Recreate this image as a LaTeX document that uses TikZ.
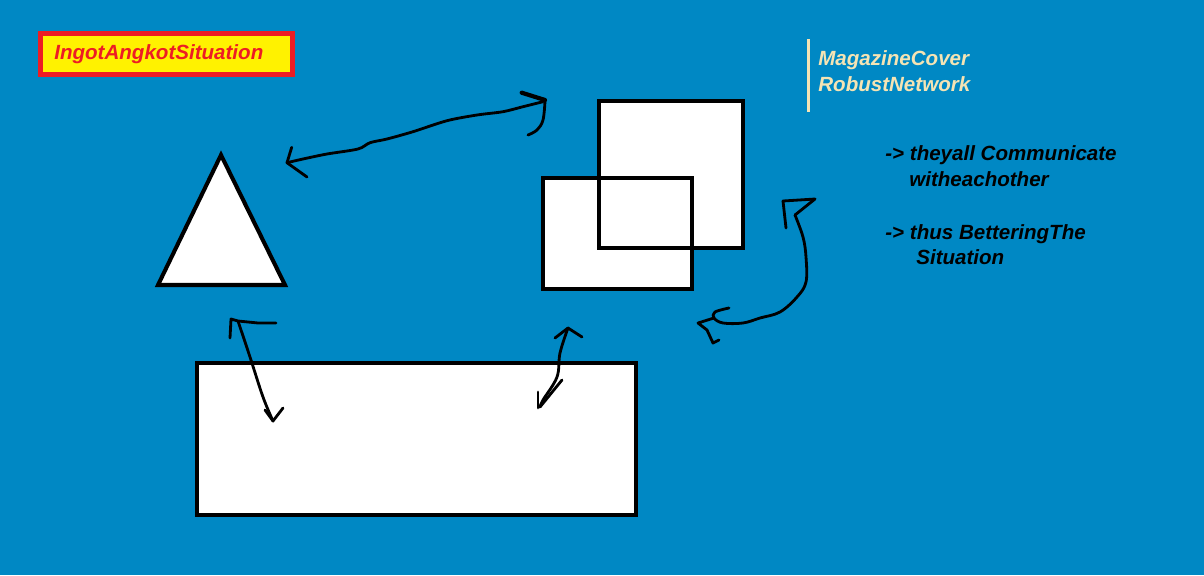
\documentclass[tikz,border=0pt]{standalone}
\usepackage{fontspec}
\setmainfont{Liberation Sans}
\usetikzlibrary{positioning, calc}
\definecolor{fundo}{RGB}{0,136,196}
\definecolor{creme}{RGB}{245,228,180}
\definecolor{vermelho}{RGB}{237,28,36}
\definecolor{amarelo}{RGB}{255,242,0}

\begin{document}
\begin{tikzpicture}[x=0.02cm, y=-0.02cm,
    every node/.style={font=\fontsize{11.7}{14}\selectfont\bfseries\itshape, inner sep=0pt, anchor=base west},
    forma/.style={draw=black, fill=white, line width=2.3pt},
    traco/.style={draw=black, line width=1.6pt, line cap=round, line join=round}]
    % Fundo
    \fill[fundo] (0,0) rectangle (1204,575);
    \useasboundingbox (0,0) rectangle (1204,575);
    % Título
    \draw[vermelho, fill=amarelo, line width=2.8pt] (40.5,33.5) rectangle (292.5,74.5);
    \node[vermelho] (titulo) at (54,59.5) {IngotAngkotSituation};
    % Formas
    \draw[forma] (221,155) -- (285,285) -- (158,285) -- cycle;
    \draw[forma] (197,363) rectangle (636,515);
    \fill[white] (599,101) rectangle (743,248);
    \fill[white] (543,178) rectangle (692,289);
    \draw[line width=2.3pt] (599,101) rectangle (743,248);
    \draw[line width=2.3pt] (543,178) rectangle (692,289);
    % Extremos das setas
    \coordinate (a1) at (287,162.7);
    \coordinate (a2) at (543,101.7);
    \coordinate (b1) at (795,215);
    \coordinate (b2) at (714,318);
    \coordinate (c1) at (238,321);
    \coordinate (c2) at (273,421);
    \coordinate (d1) at (568,328);
    \coordinate (d2) at (540,407);
    % Seta triângulo - quadrados
    \draw[traco] plot[smooth, tension=0.5] coordinates {(a1) (303,159) (327,154) (358,149) (370,142.7)
      (387,139) (413,131.7) (447,120.7) (477,115) (503,111.7) (523,106.7) (a2)};
    \draw[traco] (291.7,147.3) -- (a1) -- (307,177);
    \draw[traco, line width=2.4pt] (521.7,92.7) -- (545,100);
    \draw[traco] plot[smooth, tension=0.6] coordinates {(545,101) (543,120) (537,130) (528,135)};
    % Seta quadrados - direita
    \draw[traco] (783,201) -- (815,199) -- (b1);
    \draw[traco] (783,201) -- (786,228);
    \draw[traco] plot[smooth, tension=0.6] coordinates {(b1) (803,237) (806,257) (806,282) (797,297)
      (780,312) (760,318) (743,323) (723,323) (b2) (715,312) (729,308)};
    \draw[traco] (b2) -- (698,323) -- (707,330) -- (713,343) -- (719,340);
    % Seta retângulo - triângulo
    \draw[traco] (230,338) -- (231,319) -- (c1) -- (258,323) -- (276,323);
    \draw[traco] plot[smooth, tension=0.6] coordinates {(c1) (250,357) (263,397) (c2)};
    \draw[traco] (265,410) -- (c2) -- (283,408);
    % Seta retângulo - quadrados
    \draw[traco] (555,338) -- (d1) -- (582,337);
    \draw[traco] plot[smooth, tension=0.6] coordinates {(d1) (560,353) (557,377) (543,400) (d2)};
    \draw[traco] (538,392) -- (538,408);
    \draw[traco] (562,380) -- (d2);
    % Legenda
    \draw[creme, line width=1.7pt] (808.5,39) -- (808.5,112);
    \node[creme] (revista) at (818,65) {MagazineCover};
    \node[creme] (rede) at (818,91) {RobustNetwork};
    \foreach \x/\y/\texto [count=\i] in {
      885/160/{-> theyall Communicate},
      909/186.5/witheachother,
      885/239/{-> thus BetteringThe},
      916/264/Situation
    }
    {
      \node (nota\i) at (\x,\y) {\texto};
    }
  \end{tikzpicture}
\end{document}
